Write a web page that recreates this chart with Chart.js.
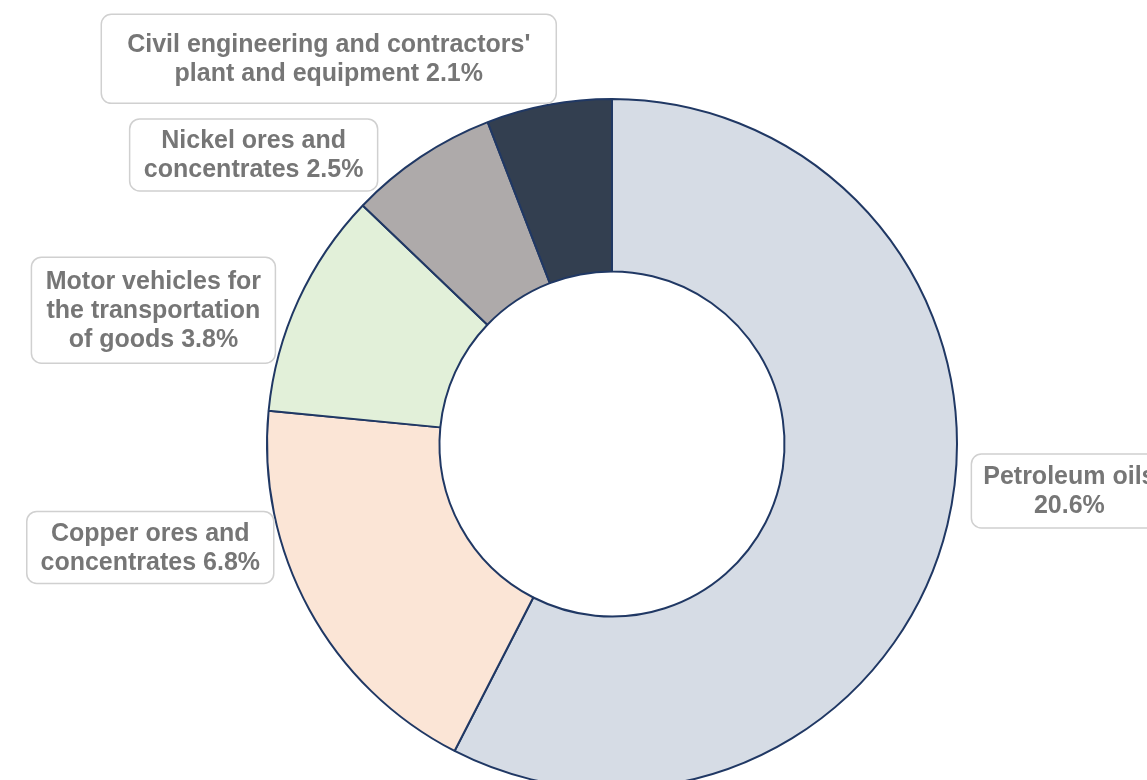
<!DOCTYPE html>
<html>
<head>
<meta charset="utf-8">
<script src="https://cdn.jsdelivr.net/npm/chart.js@4/dist/chart.umd.min.js"></script>
<style>
  html, body { margin: 0; padding: 0; background: #fff; overflow: hidden; }
  #wrap { width: 1147px; height: 900px; }
</style>
</head>
<body>
<div id="wrap"><canvas id="exportsChart" width="1147" height="900"></canvas></div>
<script>
// export shares (%)
const categories = [
    'Petroleum oils',
    'Copper ores and concentrates',
    'Motor vehicles for the transportation of goods',
    'Nickel ores and concentrates',
    "Civil engineering and contractors' plant and equipment"
];
const shares = [20.6, 6.8, 3.8, 2.5, 2.1];

// label text as it is wrapped inside each box
const labelLines = [
    ['Petroleum oils', '20.6%'],
    ['Copper ores and', 'concentrates 6.8%'],
    ['Motor vehicles for', 'the transportation', 'of goods 3.8%'],
    ['Nickel ores and', 'concentrates 2.5%'],
    ["Civil engineering and contractors'", 'plant and equipment 2.1%']
];

const sliceColors = ['#d6dce5', '#fbe5d6', '#e2f0d9', '#aeaaaa', '#333f50'];

// box placement relative to the outer middle of each slice, and box size
const labelOffsets = [[122, -34], [-159, -62], [-145, 10], [-167, -2], [-220, -46]];
const labelBoxes = [[196, 74], [247, 72], [244, 106], [248, 72], [455, 89]];

const boxLabels = {
    id: 'boxLabels',
    afterDatasetsDraw(chart) {
        const ctx = chart.ctx;
        const arcs = chart.getDatasetMeta(0).data;
        ctx.save();
        ctx.font = 'bold 25px "Liberation Sans", Arial, sans-serif';
        ctx.textAlign = 'center';
        ctx.textBaseline = 'middle';
        arcs.forEach(function (arc, i) {
            const p = arc.getProps(['x', 'y', 'startAngle', 'endAngle', 'outerRadius'], true);
            const mid = (p.startAngle + p.endAngle) / 2;
            const cx = p.x + Math.cos(mid) * p.outerRadius + labelOffsets[i][0];
            const cy = p.y + Math.sin(mid) * p.outerRadius + labelOffsets[i][1];
            const w = labelBoxes[i][0], h = labelBoxes[i][1];

            ctx.beginPath();
            ctx.roundRect(cx - w / 2, cy - h / 2, w, h, 10);
            ctx.fillStyle = '#ffffff';
            ctx.fill();
            ctx.lineWidth = 1.5;
            ctx.strokeStyle = '#d0d0d0';
            ctx.stroke();

            const lines = labelLines[i];
            const lh = 29;
            ctx.fillStyle = '#767676';
            lines.forEach(function (line, j) {
                ctx.fillText(line, cx, cy + (j - (lines.length - 1) / 2) * lh + 1);
            });
        });
        ctx.restore();
    }
};

const ctx = document.getElementById('exportsChart').getContext('2d');
const exportsChart = new Chart(ctx, {
    type: 'doughnut',
    data: {
        labels: categories,
        datasets: [{
            data: shares,
            backgroundColor: sliceColors,
            borderColor: '#203864',
            borderWidth: 2,
            hoverOffset: 0,
            offset: 0
        }]
    },
    options: {
        responsive: false,
        animation: false,
        cutout: '50%',
        layout: { padding: { left: 77, right: 0, top: 98, bottom: 110 } },
        plugins: {
            legend: { display: false },
            tooltip: { enabled: false }
        }
    },
    plugins: [boxLabels]
});
</script>
</body>
</html>
